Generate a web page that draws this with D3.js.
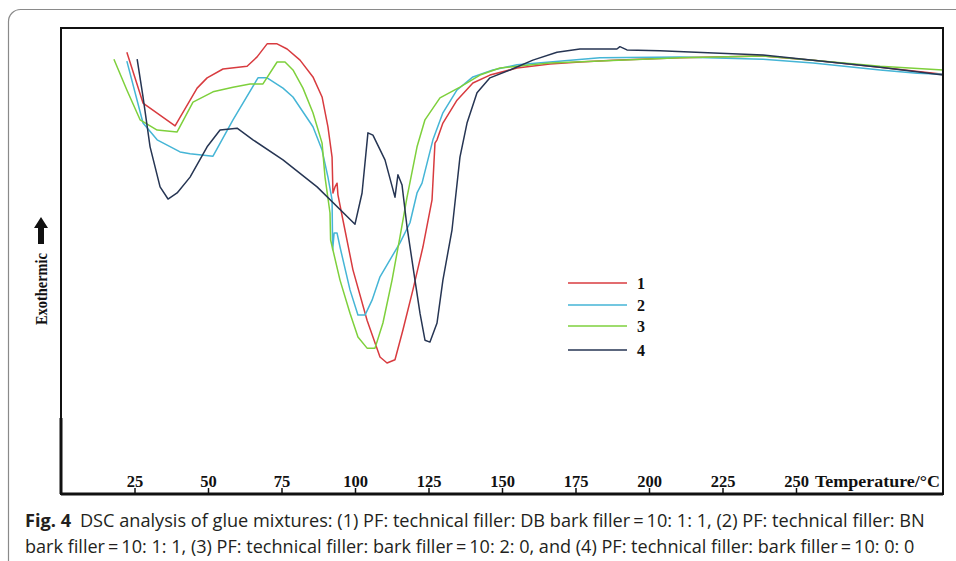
<!DOCTYPE html>
<html>
<head>
<meta charset="utf-8">
<script src="https://cdn.jsdelivr.net/npm/d3@7"></script>
<style>
  html, body { margin: 0; padding: 0; background: #fff; }
  svg { display: block; }
</style>
</head>
<body>
<svg id="chart" width="956" height="561"></svg>
<script>
// ---------- data (temperature °C, heat flow a.u.) ----------
const seriesNames = ["1", "2", "3", "4"];
const seriesColors = ["#d83b3f", "#45b5d6", "#7ed03c", "#263553"];

const series1 = [[22.4,94.8],[27.9,83.9],[38.8,79.0],[46.3,87.1],[49.7,89.3],[55.1,91.2],[63.3,91.8],[66.7,93.8],[70.1,96.6],[73.5,96.6],[76.9,95.5],[81.3,93.1],[85.7,89.5],[88.8,85.2],[90.8,78.8],[92.2,72.3],[92.5,64.6],[93.2,65.9],[93.9,66.7],[94.2,64.2],[95.9,58.8],[99.3,48.1],[104.1,37.3],[108.5,29.4],[110.9,28.1],[113.6,28.8],[116.3,35.2],[119.7,43.8],[123.1,53.0],[126.2,63.1],[127.2,75.3],[127.9,76.0],[129.9,79.6],[134.7,84.5],[140.1,88.2],[145.9,89.9],[155.1,91.4],[166.3,92.3],[176.5,92.7],[187.8,93.1],[210.5,93.6],[238.8,94.0],[255.8,93.1],[278.6,91.6],[300,90.1]];

const series2 = [[22.4,92.9],[27.9,79.6],[32.7,76.0],[40.5,73.4],[43.9,73.0],[51.7,72.5],[58.5,80.3],[67.0,89.3],[70.1,89.3],[75.5,87.1],[78.9,85.2],[85.7,78.8],[88.8,73.8],[90.8,68.0],[92.2,63.1],[92.4,52.4],[92.9,56.0],[93.9,56.0],[94.9,53.0],[98.3,43.8],[101.0,38.4],[103.4,38.4],[105.8,41.6],[108.5,46.6],[115.3,53.9],[118.7,58.2],[121.1,64.6],[122.8,66.7],[126.5,76.0],[129.9,81.8],[134.7,86.7],[140.1,89.5],[146.9,91.0],[155.1,92.1],[166.3,92.7],[183.3,93.6],[210.5,93.8],[238.8,93.3],[255.8,92.5],[278.6,91.0],[291.2,90.3],[300,90.1]];

const series3 = [[18.0,93.3],[22.4,86.7],[26.9,80.3],[32.7,78.1],[39.5,77.7],[44.9,84.1],[51.7,86.3],[58.5,87.3],[64.3,88.0],[68.7,88.0],[73.5,92.7],[76.2,92.7],[78.9,91.0],[82.3,87.1],[85.7,81.8],[88.8,75.3],[89.8,68.0],[91.5,60.3],[91.7,54.5],[94.9,45.9],[98.3,38.8],[101.0,33.7],[104.1,31.3],[106.8,31.3],[109.5,36.7],[112.6,45.9],[115.3,55.2],[117.7,63.7],[121.1,74.5],[123.8,80.3],[128.9,85.0],[135.7,87.3],[142.5,89.9],[149.3,91.4],[155.1,91.8],[166.3,92.5],[183.3,92.9],[210.5,93.6],[238.8,94.0],[255.8,93.1],[278.6,91.8],[300,91.0]];

const series4 = [[25.9,93.3],[27.9,85.2],[30.3,74.5],[33.7,65.9],[36.4,63.3],[39.5,64.6],[43.9,68.0],[49.7,74.5],[54.1,78.1],[59.9,78.5],[65.3,76.0],[75.5,71.7],[87.1,65.9],[100.0,57.9],[102.4,64.6],[104.4,77.5],[106.1,77.0],[110.2,71.7],[113.6,63.7],[114.6,68.5],[116.0,66.3],[117.7,57.3],[120.4,45.9],[122.1,38.8],[123.8,33.0],[125.5,32.6],[127.9,36.7],[129.9,45.9],[133.0,56.7],[135.7,72.3],[138.1,79.6],[141.5,86.1],[145.9,89.3],[152.7,91.0],[160.5,93.1],[168.7,94.8],[176.5,95.5],[189.1,95.5],[190.1,96.0],[192.5,95.3],[203.7,95.1],[224.1,94.6],[238.8,94.2],[255.8,93.1],[278.6,91.6],[300,89.9]];

const allSeries = [series1, series2, series3, series4];
const xTicks = [25, 50, 75, 100, 125, 150, 175, 200, 225, 250];
const xAxisTitle = "Temperature/°C";
const yAxisTitle = "Exothermic";
const captionBold = "Fig. 4";
const captionLine1 = "DSC analysis of glue mixtures: (1) PF: technical filler: DB bark filler\u2009=\u200910: 1: 1, (2) PF: technical filler: BN";
const captionLine2 = "bark filler\u2009=\u200910: 1: 1, (3) PF: technical filler: bark filler\u2009=\u200910: 2: 0, and (4) PF: technical filler: bark filler\u2009=\u200910: 0: 0";

// ---------- drawing ----------
const svg = d3.select("#chart");
const serif = "'Liberation Serif', 'Times New Roman', serif";
const sans = "'Open Sans', 'Noto Sans', sans-serif";

// outer card
svg.append("rect")
  .attr("x", 8.5).attr("y", 9.5).attr("width", 1000).attr("height", 620)
  .attr("rx", 12).attr("fill", "none").attr("stroke", "#8a8a8a").attr("stroke-width", 1.2);

const pLeft = 61, pRight = 943, pTop = 28, pBottom = 494;
const x = d3.scaleLinear().domain([0, 300]).range([pLeft, pRight]);
const y = d3.scaleLinear().domain([0, 100]).range([pBottom, pTop]);

// lines
const line = d3.line().x(d => x(d[0])).y(d => y(d[1]));
svg.append("g").selectAll("path")
  .data(allSeries)
  .join("path")
  .attr("d", line)
  .attr("fill", "none")
  .attr("stroke", (d, i) => seriesColors[i])
  .attr("stroke-width", 1.5)
  .attr("stroke-linejoin", "round");

// frame
svg.append("rect")
  .attr("x", pLeft).attr("y", pTop).attr("width", pRight - pLeft).attr("height", pBottom - pTop)
  .attr("fill", "none").attr("stroke", "#111").attr("stroke-width", 2);
svg.append("line").attr("x1", pLeft).attr("x2", pLeft).attr("y1", 418).attr("y2", pBottom)
  .attr("stroke", "#111").attr("stroke-width", 3);
svg.append("line").attr("x1", pLeft).attr("x2", pRight).attr("y1", pBottom).attr("y2", pBottom)
  .attr("stroke", "#111").attr("stroke-width", 3);

// x axis
const xAxis = d3.axisBottom(x).tickValues(xTicks).tickSize(0).tickFormat(d3.format("d"));
const gx = svg.append("g").attr("transform", `translate(0,${pBottom})`).call(xAxis);
gx.select(".domain").remove();
gx.selectAll(".tick").append("line")
  .attr("y1", -1).attr("y2", -6).attr("stroke", "#111").attr("stroke-width", 1.5);
gx.selectAll(".tick text")
  .attr("y", -7).attr("dy", 0)
  .attr("fill", "#111")
  .style("font-family", serif).style("font-weight", "bold").style("font-size", "16.5px");

svg.append("text")
  .attr("x", 815).attr("y", pBottom - 7)
  .attr("fill", "#111")
  .attr("textLength", 125).attr("lengthAdjust", "spacingAndGlyphs")
  .style("font-family", serif).style("font-weight", "bold").style("font-size", "16px")
  .text(xAxisTitle);

// y axis title + arrow
const yl = svg.append("g").attr("transform", "translate(41,0)");
yl.append("text")
  .attr("transform", "translate(0,289) rotate(-90)")
  .attr("text-anchor", "middle").attr("dominant-baseline", "central")
  .attr("textLength", 72).attr("lengthAdjust", "spacingAndGlyphs")
  .attr("fill", "#111")
  .style("font-family", serif).style("font-weight", "bold").style("font-size", "17px")
  .text(yAxisTitle);
yl.append("path")
  .attr("d", "M0,217 L7,228 L3,228 L3,244 L-3,244 L-3,228 L-7,228 Z")
  .attr("fill", "#111");

// legend
const legendY = [283, 305, 326, 350];
const lg = svg.append("g");
seriesNames.forEach((name, i) => {
  lg.append("line")
    .attr("x1", 568).attr("x2", 627).attr("y1", legendY[i]).attr("y2", legendY[i])
    .attr("stroke", seriesColors[i]).attr("stroke-width", 1.5);
  lg.append("text")
    .attr("x", 637).attr("y", legendY[i]).attr("dy", "0.35em")
    .attr("fill", "#111")
    .style("font-family", serif).style("font-weight", "bold").style("font-size", "16px")
    .text(name);
});

// caption: drawn at natural size, then squeezed horizontally to the reference width
const capG1 = svg.append("g");
const cap1 = capG1.append("text").attr("x", 0).attr("y", 0)
  .attr("fill", "#231f20").style("font-family", sans).style("font-size", "18.5px");
cap1.append("tspan").style("font-weight", "bold").text(captionBold);
cap1.append("tspan").attr("dx", 9).text(captionLine1);
const capG2 = svg.append("g");
const cap2 = capG2.append("text").attr("x", 0).attr("y", 0)
  .attr("fill", "#231f20").style("font-family", sans).style("font-size", "18.5px")
  .text(captionLine2);
function squeeze(g, t, target, ty) {
  const w = t.node().getBBox().width;
  const s = Math.min(1, target / w);
  g.attr("transform", `translate(25,${ty}) scale(${s.toFixed(4)},1)`);
}
squeeze(capG1, cap1, 900, 527);
squeeze(capG2, cap2, 890, 553);
</script>
</body>
</html>
